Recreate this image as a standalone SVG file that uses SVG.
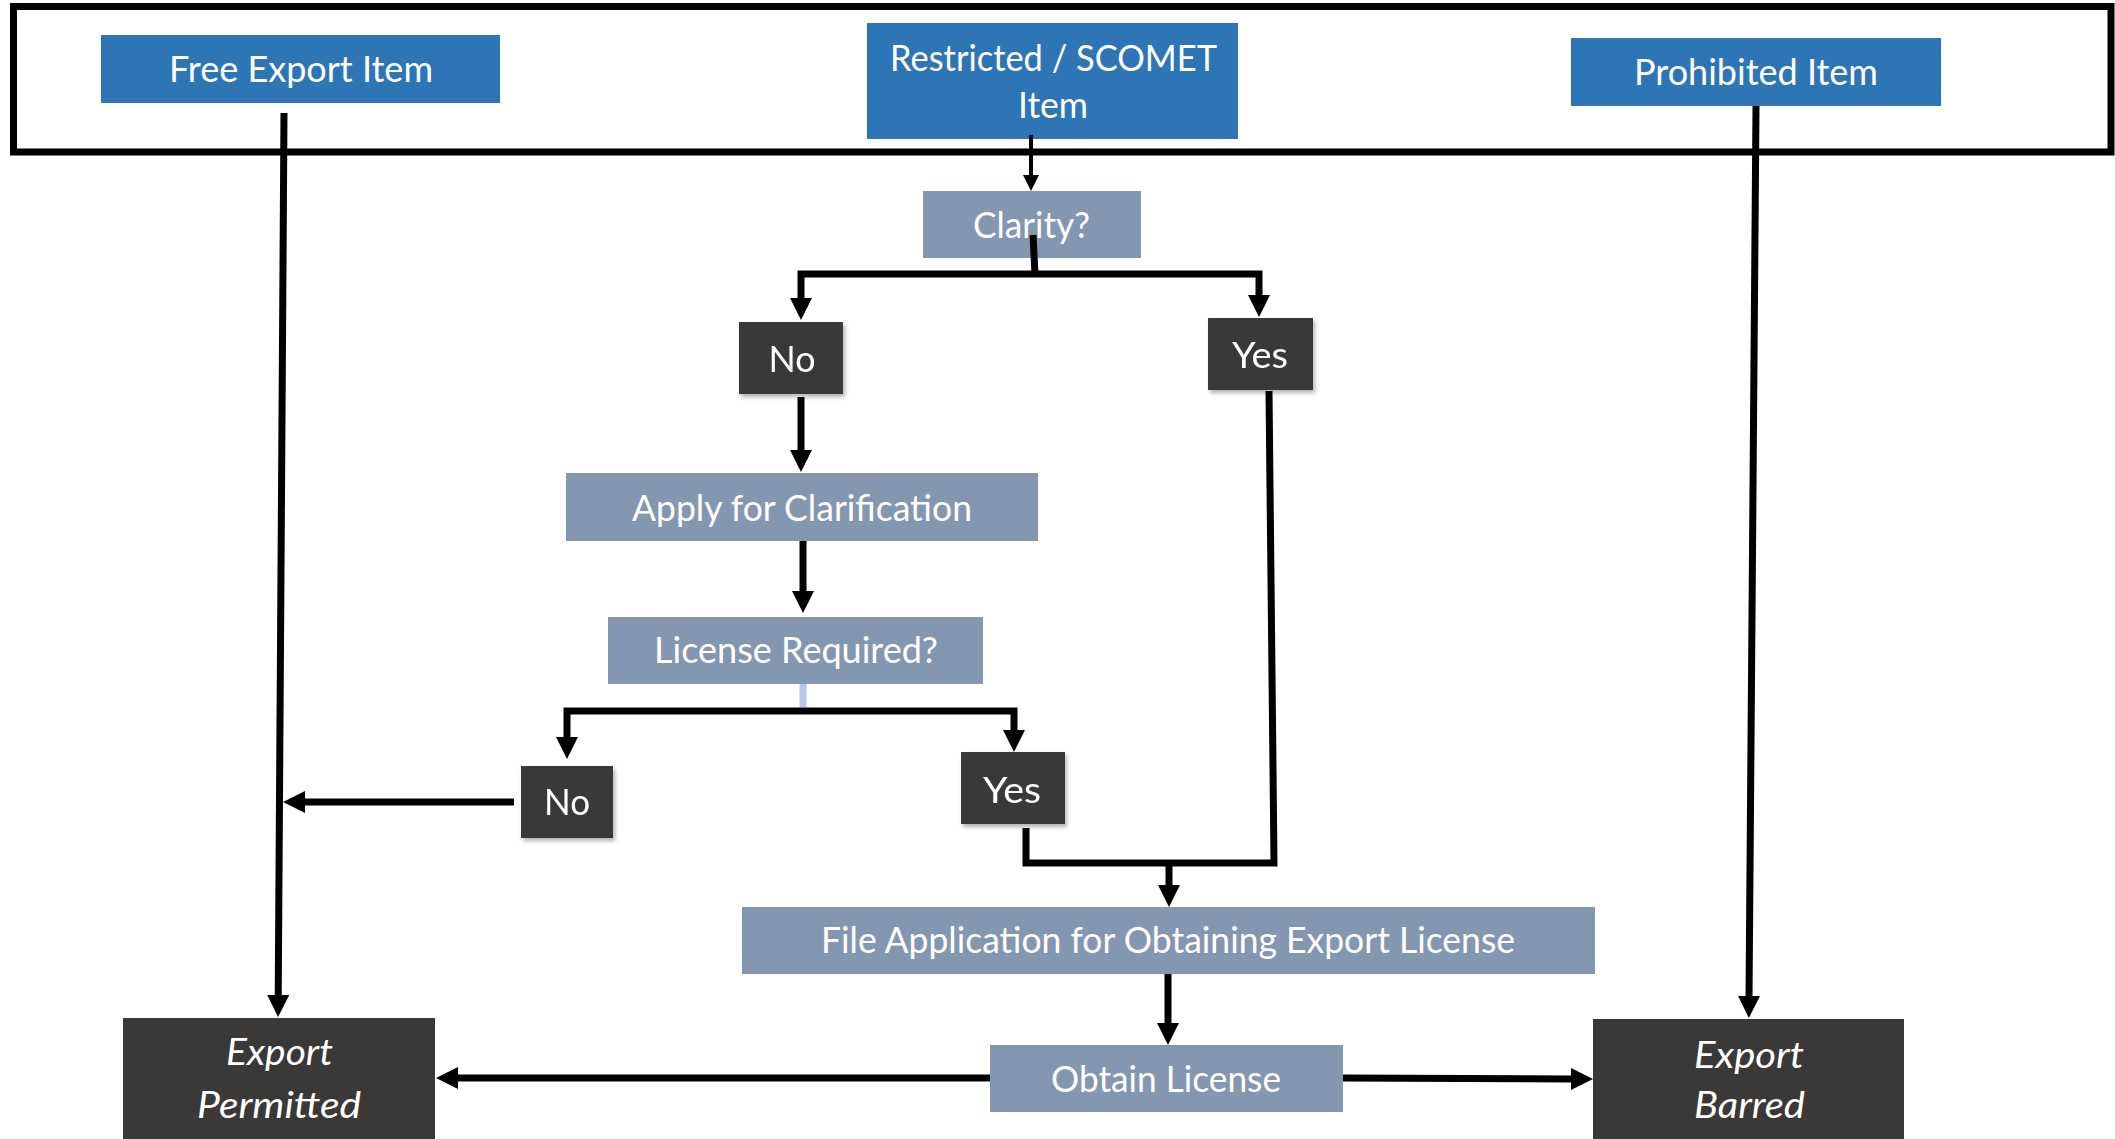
<svg xmlns="http://www.w3.org/2000/svg" width="2115" height="1139" viewBox="0 0 2115 1139">
<style>
.blue{fill:#2E75B6}
.grey{fill:#8497B0}
.dark{fill:#3B3838}
.t{font-family:Lato,"Open Sans","DejaVu Sans",sans-serif;font-size:36px;fill:#FFFFFF;text-anchor:middle}
.it{font-style:italic}
.c{fill:none;stroke:#000;stroke-width:7;stroke-linejoin:miter}
.frame{fill:none;stroke:#000;stroke-width:7}
</style>
<defs>
<marker id="ah" markerUnits="userSpaceOnUse" markerWidth="24" markerHeight="24" refX="2" refY="11" orient="auto">
<path d="M0,0 L22,11 L0,22 z" fill="#000"/>
</marker>
<marker id="ahs" markerUnits="userSpaceOnUse" markerWidth="18" markerHeight="18" refX="2" refY="8" orient="auto">
<path d="M0,0 L16,8 L0,16 z" fill="#000"/>
</marker>
<filter id="sh" x="-10%" y="-10%" width="130%" height="130%">
<feDropShadow dx="2" dy="3" stdDeviation="2" flood-color="#000" flood-opacity="0.3"/>
</filter>
</defs>
<rect width="2115" height="1139" fill="#FFFFFF"/>
<rect class="frame" x="13.5" y="6.5" width="2097.5" height="145.5"/>

<g id="free-export-item">
<rect class="blue" x="101" y="35" width="399" height="68"/>
<text class="t" x="301" y="82" textLength="264" lengthAdjust="spacingAndGlyphs">Free Export Item</text>
</g>
<g id="restricted-item">
<rect class="blue" x="867" y="23" width="371" height="116"/>
<text class="t" x="1053.5" y="71" textLength="327" lengthAdjust="spacingAndGlyphs">Restricted / SCOMET</text>
<text class="t" x="1053" y="118" textLength="70" lengthAdjust="spacingAndGlyphs">Item</text>
</g>
<g id="prohibited-item">
<rect class="blue" x="1571" y="38" width="370" height="68"/>
<text class="t" x="1756" y="85" textLength="244" lengthAdjust="spacingAndGlyphs">Prohibited Item</text>
</g>
<g id="clarity">
<rect class="grey" x="923" y="191" width="218" height="67"/>
<text class="t" x="1031.5" y="238" textLength="117" lengthAdjust="spacingAndGlyphs">Clarity?</text>
</g>
<g id="clarity-no" filter="url(#sh)">
<rect class="dark" x="739" y="322" width="104" height="72"/>
<text class="t" x="792" y="372" textLength="47" lengthAdjust="spacingAndGlyphs">No</text>
</g>
<g id="clarity-yes" filter="url(#sh)">
<rect class="dark" x="1208" y="318" width="105" height="72"/>
<text class="t" x="1260" y="368" textLength="56" lengthAdjust="spacingAndGlyphs">Yes</text>
</g>
<g id="apply-clarification">
<rect class="grey" x="566" y="473" width="472" height="68"/>
<text class="t" x="802" y="521" textLength="340" lengthAdjust="spacingAndGlyphs">Apply for Clarification</text>
</g>
<g id="license-required">
<rect class="grey" x="608" y="617" width="375" height="67"/>
<text class="t" x="796" y="663" textLength="284" lengthAdjust="spacingAndGlyphs">License Required?</text>
</g>
<g id="license-no" filter="url(#sh)">
<rect class="dark" x="521" y="766" width="92" height="72"/>
<text class="t" x="567" y="815" textLength="46" lengthAdjust="spacingAndGlyphs">No</text>
</g>
<g id="license-yes" filter="url(#sh)">
<rect class="dark" x="961" y="752" width="104" height="72"/>
<text class="t" x="1012" y="803" textLength="58" lengthAdjust="spacingAndGlyphs">Yes</text>
</g>
<g id="file-application">
<rect class="grey" x="742" y="907" width="853" height="67"/>
<text class="t" x="1168" y="953" textLength="694" lengthAdjust="spacingAndGlyphs">File Application for Obtaining Export License</text>
</g>
<g id="obtain-license">
<rect class="grey" x="990" y="1045" width="353" height="67"/>
<text class="t" x="1166" y="1092" textLength="230" lengthAdjust="spacingAndGlyphs">Obtain License</text>
</g>
<g id="export-permitted">
<rect class="dark" x="123" y="1018" width="312" height="121"/>
<text class="t it" x="279.5" y="1065" textLength="107" lengthAdjust="spacingAndGlyphs">Export</text>
<text class="t it" x="279" y="1118" textLength="164" lengthAdjust="spacingAndGlyphs">Permitted</text>
</g>
<g id="export-barred">
<rect class="dark" x="1593" y="1019" width="311" height="120"/>
<text class="t it" x="1749" y="1068" textLength="110" lengthAdjust="spacingAndGlyphs">Export</text>
<text class="t it" x="1749.5" y="1118" textLength="111" lengthAdjust="spacingAndGlyphs">Barred</text>
</g>

<g id="connectors">
<path class="c" d="M284,113 L278.2,997" marker-end="url(#ah)"/>
<path class="c" style="stroke-width:4" d="M1031,135 L1031,177" marker-end="url(#ahs)"/>
<path class="c" d="M1033,235 L1035,274"/>
<path class="c" d="M1034,274 L801,274 L801,300" marker-end="url(#ah)"/>
<path class="c" d="M1034,274 L1259,274 L1259,297" marker-end="url(#ah)"/>
<path class="c" d="M801,397 L801,452" marker-end="url(#ah)"/>
<path class="c" d="M803,541 L803,593" marker-end="url(#ah)"/>
<path class="c" style="stroke:#B4C7E7" d="M803,684 L803,707"/>
<path class="c" d="M803,711 L567,711 L567,739" marker-end="url(#ah)"/>
<path class="c" d="M803,711 L1014,711 L1014,732" marker-end="url(#ah)"/>
<path class="c" d="M514,802 L303,802" marker-end="url(#ah)"/>
<path class="c" d="M1269,391 L1274,863 L1026,863 L1026,828"/>
<path class="c" d="M1169,863 L1169,887" marker-end="url(#ah)"/>
<path class="c" d="M1168,974 L1168,1025" marker-end="url(#ah)"/>
<path class="c" d="M990,1078 L456,1078" marker-end="url(#ah)"/>
<path class="c" d="M1343,1078 L1573,1079" marker-end="url(#ah)"/>
<path class="c" d="M1756,106 L1749,998" marker-end="url(#ah)"/>
</g>
</svg>
